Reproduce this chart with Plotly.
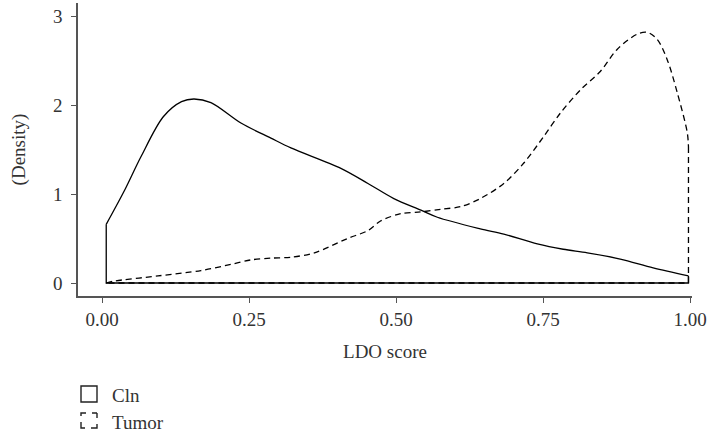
import plotly.graph_objects as go

# LDO score grid and density estimates (curve part only)
cln_x = [0.007, 0.038, 0.066, 0.104, 0.135, 0.156, 0.185, 0.236, 0.287, 0.321,
         0.406, 0.452, 0.496, 0.542, 0.570, 0.643, 0.683, 0.740, 0.784, 0.825,
         0.881, 0.937, 0.997]
cln_y = [0.66, 1.04, 1.42, 1.87, 2.04, 2.07, 2.03, 1.80, 1.63, 1.52,
         1.29, 1.12, 0.95, 0.82, 0.74, 0.61, 0.55, 0.44, 0.38, 0.34,
         0.27, 0.17, 0.08]

tumor_x = [0.007, 0.019, 0.095, 0.168, 0.219, 0.253, 0.287, 0.321, 0.361, 0.417,
           0.452, 0.474, 0.508, 0.542, 0.576, 0.610, 0.643, 0.683, 0.717, 0.750,
           0.779, 0.813, 0.847, 0.876, 0.910, 0.927, 0.944, 0.961, 0.978, 0.995,
           0.997]
tumor_y = [0.0, 0.02, 0.08, 0.14, 0.21, 0.26, 0.28, 0.29, 0.34, 0.50,
           0.59, 0.70, 0.78, 0.80, 0.83, 0.86, 0.95, 1.12, 1.35, 1.64,
           1.91, 2.17, 2.38, 2.63, 2.80, 2.82, 2.74, 2.51, 2.14, 1.69,
           1.53]

series_names = ["Cln", "Tumor"]
x_ticks = [0.0, 0.25, 0.5, 0.75, 1.0]
x_tick_labels = ["0.00", "0.25", "0.50", "0.75", "1.00"]
y_ticks = [0, 1, 2, 3]

font_family = "Liberation Serif, Times New Roman, serif"
txt_color = "#333333"

fig = go.Figure()


def add_density(xs, ys, dash, name):
    # smooth density curve
    fig.add_trace(go.Scatter(
        x=xs, y=ys, mode="lines", name=name, showlegend=False, hoverinfo="skip",
        line=dict(color="black", width=1.3, dash=dash, shape="spline", smoothing=0.9),
    ))
    # closing outline: down to the baseline at the ends and along y = 0
    fig.add_trace(go.Scatter(
        x=[xs[-1], xs[-1], xs[0], xs[0]], y=[ys[-1], 0, 0, ys[0]],
        mode="lines", showlegend=False, hoverinfo="skip",
        line=dict(color="black", width=1.3, dash=dash),
    ))


add_density(cln_x, cln_y, "solid", series_names[0])
add_density(tumor_x, tumor_y, "6px,4px", series_names[1])

# manual legend (boxes + labels) below the plot
legend_boxes = [
    dict(y0=-90, y1=-106, dash="solid"),
    dict(y0=-117, y1=-132, dash="5px,6px,5px,0px"),
]
legend_text_y = [-99, -126]
shapes = []
annotations = []
for i, name in enumerate(series_names):
    b = legend_boxes[i]
    shapes.append(dict(
        type="rect", xref="paper", yref="paper",
        xsizemode="pixel", ysizemode="pixel", xanchor=0, yanchor=0,
        x0=3, x1=19, y0=b["y0"], y1=b["y1"],
        line=dict(color="#222222", width=1.4, dash=b["dash"]),
        fillcolor="rgba(0,0,0,0)",
    ))
    annotations.append(dict(
        text=name, xref="paper", yref="paper", x=(110 - 78) / 614,
        y=legend_text_y[i] / 293, xanchor="left", yanchor="middle",
        showarrow=False, font=dict(family=font_family, size=19, color=txt_color),
    ))

fig.update_layout(
    width=711, height=434,
    margin=dict(l=78, r=19, t=3, b=138),
    plot_bgcolor="white", paper_bgcolor="white",
    font=dict(family=font_family, size=19, color=txt_color),
    showlegend=False,
    shapes=shapes, annotations=annotations,
)
fig.update_xaxes(
    range=[-0.041, 1.003], tickvals=x_ticks, ticktext=x_tick_labels,
    showline=True, linecolor="#555555", linewidth=1.6,
    ticks="outside", ticklen=5, tickcolor="#555555", tickwidth=1.2,
    showgrid=False, zeroline=False,
    title=dict(text="LDO score", font=dict(family=font_family, size=19, color=txt_color), standoff=16),
    tickfont=dict(family=font_family, size=19, color=txt_color),
    automargin=False,
)
fig.update_yaxes(
    range=[-0.146, 3.15], tickvals=y_ticks,
    showline=True, linecolor="#555555", linewidth=1.6,
    ticks="outside", ticklen=5, tickcolor="#555555", tickwidth=1.2,
    showgrid=False, zeroline=False,
    title=dict(text="(Density)", font=dict(family=font_family, size=19, color=txt_color), standoff=22),
    tickfont=dict(family=font_family, size=19, color=txt_color),
    ticklabelstandoff=5,
    automargin=False,
)

fig.write_html(
    "out.html",
    config={"displayModeBar": False},
    post_script="document.body.style.margin='0';document.body.style.overflow='hidden';",
)
